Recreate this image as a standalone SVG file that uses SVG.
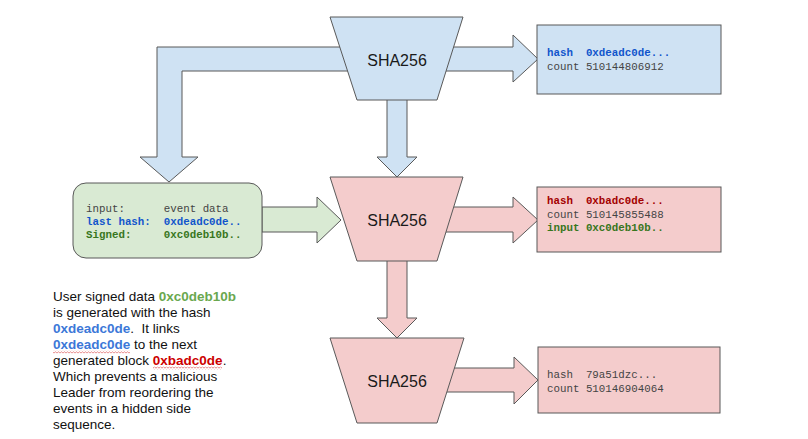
<svg xmlns="http://www.w3.org/2000/svg" width="808" height="439" viewBox="0 0 808 439">
<style>
.blue{fill:#cfe2f3;stroke:#595959;stroke-width:1}
.red{fill:#f4cccc;stroke:#595959;stroke-width:1}
.green{fill:#d9ead3;stroke:#595959;stroke-width:1}
.sha{font-family:"Liberation Sans",Arial,sans-serif;font-size:16px;fill:#1a1a1a;text-anchor:middle}
.mono{font-family:"Liberation Mono","Courier New",monospace;font-size:10.8px;fill:#444}
.para{font-family:"Liberation Sans",Arial,sans-serif;font-size:13.5px;fill:#111}
.b{font-weight:bold}
.mblue{fill:#1155cc}
.mred{fill:#a30000}
.mgreen{fill:#38761d}
.pblue{fill:#3c78d8}
.pred{fill:#cc0000}
.pgreen{fill:#6aa84f}
</style>
<defs>
<pattern id="wave" width="3" height="3" patternUnits="userSpaceOnUse">
<path d="M0,2.2 L1.5,0.8 L3,2.2" fill="none" stroke="#e06666" stroke-width="0.8"/>
</pattern>
</defs>
<rect width="808" height="439" fill="#ffffff"/>
<g id="connectors">
<polygon class="blue" points="360,47 157,47 157,157 140,157 169,182 198,157 182,157 182,71 360,71"/>
<polygon class="blue" points="430,47 513,47 513,35 538,59 513,82 513,71 430,71"/>
<polygon class="blue" points="387,95 387,157 377,157 397,177 417,157 407,157 407,95"/>
<polygon class="green" points="262,207 317,207 317,197 341,220 317,243 317,232 262,232"/>
<polygon class="red" points="430,207 513,207 513,197 538,220 513,243 513,232 430,232"/>
<polygon class="red" points="387,255 387,318 377,318 397,338 417,318 407,318 407,255"/>
<polygon class="red" points="430,368 514,368 514,357 538,380 514,404 514,392 430,392"/>
</g>
<g id="sha-top">
<polygon class="blue" points="330,17 463,17 437,100 357,100"/>
<text class="sha" x="397" y="65.5">SHA256</text>
</g>
<g id="sha-mid">
<polygon class="red" points="330,177 463,177 437,261 357,261"/>
<text class="sha" x="397" y="226">SHA256</text>
</g>
<g id="sha-bottom">
<polygon class="red" points="330,338 464,338 437,423 357,423"/>
<text class="sha" x="397" y="386.5">SHA256</text>
</g>
<g id="out-top">
<rect class="blue" x="537" y="25" width="184" height="69"/>
<text class="mono b mblue" x="547" y="56" xml:space="preserve">hash  0xdeadc0de...</text>
<text class="mono" x="547" y="69.5" xml:space="preserve">count 510144806912</text>
</g>
<g id="out-mid">
<rect class="red" x="537" y="187" width="184" height="65"/>
<text class="mono b mred" x="547" y="204" xml:space="preserve">hash  0xbadc0de...</text>
<text class="mono" x="547" y="217.5" xml:space="preserve">count 510145855488</text>
<text class="mono b mgreen" x="547" y="231" xml:space="preserve">input 0xc0deb10b..</text>
</g>
<g id="out-bottom">
<rect class="red" x="538" y="347" width="182" height="66"/>
<text class="mono" x="547" y="378" xml:space="preserve">hash  79a51dzc...</text>
<text class="mono" x="547" y="391.5" xml:space="preserve">count 510146904064</text>
</g>
<g id="input">
<rect class="green" x="73" y="183" width="189" height="75" rx="13" ry="13"/>
<text class="mono" x="86" y="212" xml:space="preserve">input:      event data</text>
<text class="mono b mblue" x="86" y="225" xml:space="preserve">last hash:  0xdeadc0de..</text>
<text class="mono b mgreen" x="86" y="238" xml:space="preserve">Signed:     0xc0deb10b..</text>
</g>
<g id="note">
<text class="para" x="53" y="301">User signed data <tspan class="b pgreen">0xc0deb10b</tspan></text>
<text class="para" x="53" y="317">is generated with the hash</text>
<text class="para" x="53" y="333" xml:space="preserve"><tspan class="b pblue">0xdeadc0de</tspan>.  It links</text>
<text class="para" x="53" y="349"><tspan class="b pblue">0xdeadc0de</tspan> to the next</text>
<text class="para" x="53" y="365">generated block <tspan class="b pred">0xbadc0de</tspan>.</text>
<text class="para" x="53" y="381">Which prevents a malicious</text>
<text class="para" x="53" y="397">Leader from reordering the</text>
<text class="para" x="53" y="413">events in a hidden side</text>
<text class="para" x="53" y="429">sequence.</text>
<rect x="53" y="350.5" width="77" height="3" fill="url(#wave)"/>
<rect x="153" y="366.5" width="69" height="3" fill="url(#wave)"/>
</g>
</svg>
